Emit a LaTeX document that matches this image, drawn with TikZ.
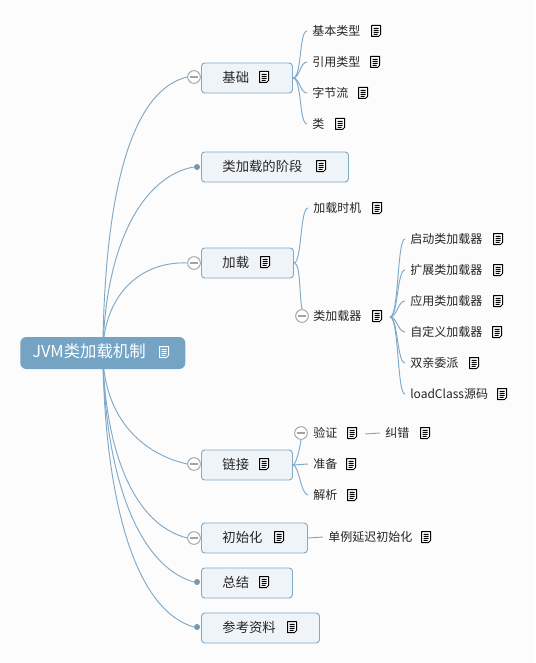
\documentclass[tikz,border=0pt]{standalone}
\usepackage{fontspec}
\setmainfont{Noto Sans CJK SC}
\usetikzlibrary{backgrounds}
\definecolor{rootblue}{HTML}{74A3C3}
\definecolor{linkblue}{HTML}{7FA9C8}
\definecolor{topicfill}{HTML}{EFF4F8}
\definecolor{pagebg}{HTML}{FCFCFC}
\definecolor{markgray}{HTML}{A3A3A3}
\tikzset{
  rootnode/.style={rectangle,rounded corners=4.5pt,fill=rootblue,text=white,font=\fontsize{12.3}{14}\selectfont,anchor=west,
    inner xsep=9pt,inner ysep=0pt,minimum height=24pt,text width=105.75pt,align=left,text height=9.5pt,text depth=2.5pt},
  topic/.style={rectangle,rounded corners=2.5pt,draw=linkblue,line width=.7pt,fill=topicfill,text=black!85,
    font=\fontsize{10}{12}\selectfont,anchor=west,inner xsep=15.75pt,inner ysep=0pt,minimum height=22.5pt,text width=#1,align=left,
    text height=8.1pt,text depth=2pt},
  leaf/.style={anchor=west,inner xsep=3.75pt,inner ysep=1pt,text=black!85,font=\fontsize{9}{11}\selectfont},
  collapse/.style={circle,draw=markgray,line width=.7pt,fill=white,minimum size=9.5pt,inner sep=0pt,
    path picture={\draw[markgray,line width=1pt] (path picture bounding box.center) ++(-4,0) -- ++(8,0);}},
  dotmark/.style={circle,fill=linkblue!90!black,minimum size=4.5pt,inner sep=0pt},
  link/.style={draw=linkblue,line width=.7pt},
  pics/noteicon/.style={code={
    \draw[line width=.75pt,line join=round,#1] (-4.5,-5.5) -- (4.5,-5.5) -- (4.5,3.5) -- (2.5,5.5) -- (-4.5,5.5) -- cycle
      (-2.5,-2.7) -- (2.5,-2.7) (-2.5,-.7) -- (2.5,-.7) (-2.5,1.3) -- (2.5,1.3) (-2.5,3.3) -- (1.5,3.3);
  }},
  pics/noteicon/.default={draw=black,fill=white}
}
\begin{document}
\begin{tikzpicture}[x=.75pt,y=-.75pt]
\useasboundingbox (0,0) rectangle (535,663);
\begin{scope}[on background layer]
  \fill[pagebg] (0,0) rectangle (535,663);
\end{scope}

% root
\node[rootnode] (root) at (20,353) {JVM类加载机制};
\pic at (164,352) {noteicon={draw=white}};

% topics
\node[topic=36.75pt] (jichu) at (201,78) {基础};
\pic at (264,77) {noteicon};
\node[topic=78.75pt] (jieduan) at (201,167) {类加载的阶段};
\pic at (321,166) {noteicon};
\node[topic=37.5pt] (jiazai) at (201,263) {加载};
\pic at (265,262) {noteicon};
\node[topic=36.75pt] (lianjie) at (201,465) {链接};
\pic at (264,464) {noteicon};
\node[topic=48pt] (chushi) at (201,538) {初始化};
\pic at (279,537) {noteicon};
\node[topic=36.75pt] (zongjie) at (201,583) {总结};
\pic at (264,582) {noteicon};
\node[topic=57pt] (cankao) at (201,628) {参考资料};
\pic at (292,627) {noteicon};

% marks on topics
\node[collapse] (cjichu) at (194,77) {};
\node[dotmark] (djieduan) at (197,167) {};
\node[collapse] (cjiazai) at (194,263) {};
\node[collapse] (clianjie) at (194,464) {};
\node[collapse] (cchushi) at (194,538) {};
\node[dotmark] (dzongjie) at (197,582) {};
\node[dotmark] (dcankao) at (197,627) {};

% leaves of jichu
\node[leaf] (jiben) at (307,31) {基本类型};
\pic at (376,31) {noteicon};
\node[leaf] (yinyong) at (307,62) {引用类型};
\pic at (375,62) {noteicon};
\node[leaf] (zijie) at (307,93) {字节流};
\pic at (363,93) {noteicon};
\node[leaf] (lei) at (307,124) {类};
\pic at (340,124) {noteicon};

% leaves of jiazai
\node[leaf] (shiji) at (308,208) {加载时机};
\pic at (377,208) {noteicon};
\node[leaf] (leijia) at (308,316) {类加载器};
\pic at (377,316) {noteicon};
\node[collapse] (cleijia) at (302,316) {};
\coordinate (hub) at (390,317);

\node[leaf] (qidong) at (405,239) {启动类加载器};
\pic at (498,239) {noteicon};
\node[leaf] (kuozhan) at (405,270) {扩展类加载器};
\pic at (498,270) {noteicon};
\node[leaf] (yingyong) at (405,301) {应用类加载器};
\pic at (498,301) {noteicon};
\node[leaf] (zidingyi) at (405,332) {自定义加载器};
\pic at (497,332) {noteicon};
\node[leaf] (shuangqin) at (405,363) {双亲委派};
\pic at (474,363) {noteicon};
\node[leaf] (loadc) at (405,394) {loadClass源码};
\pic at (502,394) {noteicon};

% leaves of lianjie
\node[leaf] (yanzheng) at (308,433) {验证};
\pic at (352,433) {noteicon};
\node[collapse] (cyan) at (301,433) {};
\coordinate (yanend) at (365,434);
\node[leaf] (jiucuo) at (380,433) {纠错};
\pic at (425,433) {noteicon};
\node[leaf] (zhunbei) at (308,464) {准备};
\pic at (351,464) {noteicon};
\node[leaf] (jiexi) at (308,495) {解析};
\pic at (352,495) {noteicon};

% leaf of chushi
\node[leaf] (danli) at (323,537) {单例延迟初始化};
\pic at (426,537) {noteicon};

% connectors
\begin{scope}[on background layer]
  \draw[link] (root.center) .. controls +(2,-180) and +(-50,12) .. (cjichu.west);
  \draw[link] (root.center) .. controls +(3,-120) and +(-45,8) .. (djieduan.west);
  \draw[link] (root.center) .. controls +(1,-60) and +(-45,-2) .. (cjiazai.west);
  \draw[link] (root.center) .. controls +(1,65) and +(-45,-10) .. (clianjie.west);
  \draw[link] (root.center) .. controls +(2,95) and +(-55,-14) .. (cchushi.west);
  \draw[link] (root.center) .. controls +(2,125) and +(-55,-16) .. (dzongjie.west);
  \draw[link] (root.center) .. controls +(2,145) and +(-60,-18) .. (dcankao.west);

  \draw[link] (jichu.east) .. controls +(9,0) and +(-8,0) .. (jiben.west);
  \draw[link] (jichu.east) .. controls +(7,0) and +(-7,0) .. (yinyong.west);
  \draw[link] (jichu.east) .. controls +(7,0) and +(-7,0) .. (zijie.west);
  \draw[link] (jichu.east) .. controls +(9,0) and +(-8,0) .. (lei.west);

  \draw[link] (jiazai.east) .. controls +(8,0) and +(-8,0) .. (shiji.west);
  \draw[link] (jiazai.east) .. controls +(7,0) and +(-3,-15) .. (cleijia.north);

  \draw[link] (hub) .. controls +(9,0) and +(-8,0) .. (qidong.west);
  \draw[link] (hub) .. controls +(8,0) and +(-8,0) .. (kuozhan.west);
  \draw[link] (hub) .. controls +(7,0) and +(-7,0) .. (yingyong.west);
  \draw[link] (hub) .. controls +(7,0) and +(-7,0) .. (zidingyi.west);
  \draw[link] (hub) .. controls +(8,0) and +(-8,0) .. (shuangqin.west);
  \draw[link] (hub) .. controls +(9,0) and +(-8,0) .. (loadc.west);

  \draw[link] (lianjie.east) .. controls +(3,0) and +(-1,8) .. (cyan.south);
  \draw[link] (lianjie.east) -- (zhunbei.west);
  \draw[link] (lianjie.east) .. controls +(6,0) and +(-7,0) .. (jiexi.west);
  \draw[link] (yanend) -- (jiucuo.west);
  \draw[link] (chushi.east) -- (danli.west);
\end{scope}
\end{tikzpicture}
\end{document}
